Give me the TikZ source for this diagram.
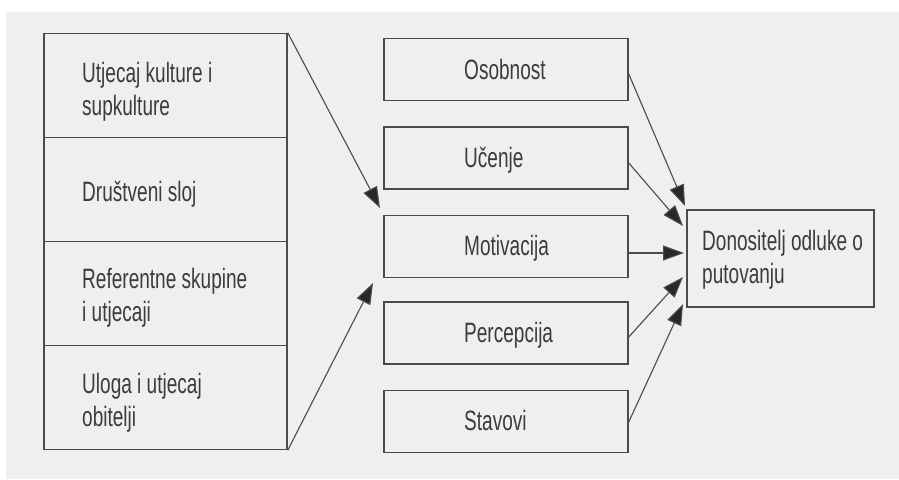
\documentclass[tikz,border=0pt]{standalone}
\usepackage{fontspec}
\setmainfont{Liberation Sans}[FakeStretch=0.68]
\usetikzlibrary{arrows.meta,calc}
\definecolor{bg}{RGB}{239,239,239}
\definecolor{ln}{RGB}{75,75,75}
\definecolor{tx}{RGB}{60,60,60}
\definecolor{hd}{RGB}{40,40,40}
\newcommand{\twol}[2]{\begin{tabular}[t]{@{}l@{}}#1\\#2\end{tabular}}
\begin{document}
\begin{tikzpicture}[x=1pt,y=-1pt,
  sect/.style={draw=ln,line width=1.5pt,minimum width=243pt,minimum height=104pt,inner sep=0pt},
  mbox/.style={draw=ln,line width=1.5pt,minimum width=244pt,minimum height=62pt,inner sep=0pt},
  dbox/.style={draw=ln,line width=1.5pt,minimum width=187pt,minimum height=97pt,inner sep=0pt},
  lbl/.style={anchor=base west,inner sep=0pt,text=tx,font=\fontsize{28}{33}\selectfont},
  arr/.style={draw=ln,line width=1.1pt,-{Triangle[length=21pt,width=15pt,fill=hd]}}]
\fill[white] (0,0) rectangle (899,479);
\fill[bg] (6,12) rectangle (899,479);
\useasboundingbox (0,0) rectangle (899,479);
% left stacked box
\node[sect] (s1) at (165.5,85.5) {};
\node[sect] (s2) at (165.5,189.5) {};
\node[sect] (s3) at (165.5,293.5) {};
\node[sect] (s4) at (165.5,397.5) {};
\node[lbl] (t1) at (82,82) {\twol{Utjecaj kulture i}{supkulture}};
\node[lbl] (t2) at (82,201) {Društveni sloj};
\node[lbl] (t3) at (82,288) {\twol{Referentne skupine}{i utjecaji}};
\node[lbl] (t4) at (82,393) {\twol{Uloga i utjecaj}{obitelji}};
% middle boxes
\node[mbox] (m1) at (506,69.5) {};
\node[mbox] (m2) at (506,158) {};
\node[mbox] (m3) at (506,246.5) {};
\node[mbox] (m4) at (506,333) {};
\node[mbox] (m5) at (506,421.5) {};
\node[lbl] (n1) at (464,79) {Osobnost};
\node[lbl] (n2) at (464,167) {Učenje};
\node[lbl] (n3) at (464,255) {Motivacija};
\node[lbl] (n4) at (464,342) {Percepcija};
\node[lbl] (n5) at (464,430) {Stavovi};
% decision box
\node[dbox] (d) at (780.5,258.5) {};
\node[lbl] (dt) at (702,250) {\twol{Donositelj odluke o}{putovanju}};
% free ends
\coordinate (a1) at (380,208);
\coordinate (a2) at (373,283);
\coordinate (b1) at (685,206);
\coordinate (b2) at (683,226);
\coordinate (b3) at (684,253);
\coordinate (b4) at (683,277);
\coordinate (b5) at (683,304);
% connectors
\draw[arr] (s1.north east) -- (a1);
\draw[arr] (s4.south east) -- (a2);
\draw[arr] ([yshift=-4.5pt]m1.east) -- (b1);
\draw[arr] ([yshift=-5pt]m2.east) -- (b2);
\draw[arr] ([yshift=-6.5pt]m3.east) -- (b3);
\draw[arr] ([yshift=-4pt]m4.east) -- (b4);
\draw[arr] ([yshift=-0.5pt]m5.east) -- (b5);
\end{tikzpicture}
\end{document}
